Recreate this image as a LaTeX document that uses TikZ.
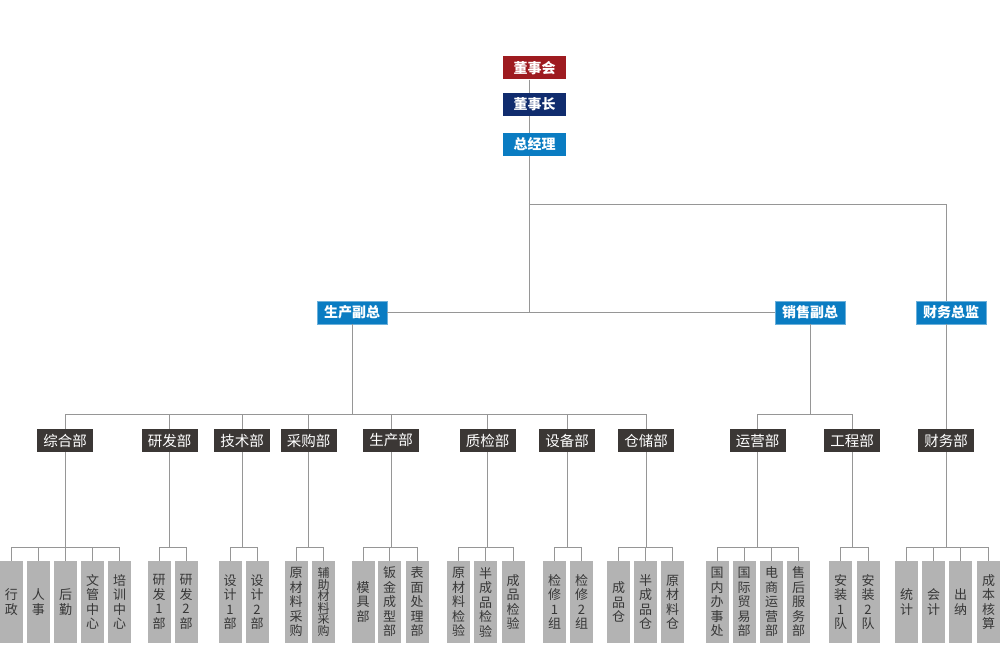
\documentclass[tikz,border=0pt]{standalone}
\usepackage{fontspec}
\newfontfamily\cjk{Noto Sans CJK SC}
\definecolor{hong}{RGB}{158, 27, 32}
\definecolor{zang}{RGB}{16, 44, 110}
\definecolor{lan}{RGB}{10, 124, 194}
\definecolor{hei}{RGB}{59, 55, 53}
\definecolor{hui}{RGB}{179, 179, 179}
\definecolor{wenzi}{RGB}{55, 55, 55}
\definecolor{xian}{RGB}{150, 150, 150}
\tikzset{
  link/.style={draw=xian, line width=1pt},
  topbox/.style={minimum width=63pt, minimum height=23pt, inner sep=0pt, text=white, font=\cjk\bfseries\fontsize{14}{14}\selectfont},
  vpbox/.style={topbox, fill=lan, draw=lan!60!white, minimum width=70pt},
  deptbox/.style={minimum width=56pt, minimum height=23pt, inner sep=0pt, fill=hei, text=white, font=\cjk\fontsize{14.5}{14.5}\selectfont},
  leafbox/.style={minimum width=23pt, minimum height=82pt, text width=23pt, align=center, inner sep=0pt, fill=hui, text=wenzi, font=\cjk\fontsize{13}{14.5}\selectfont}
}
\begin{document}
\begin{tikzpicture}[x=1pt,y=-1pt]
\useasboundingbox (0,0) rectangle (1000,660);
% top of the chart
\node[topbox, fill=hong] (dsh) at (534.5,68) {董事会};
\node[topbox, fill=zang] (dsz) at (534.5,104.5) {董事长};
\node[topbox, fill=lan] (zjl) at (534.5,144.5) {总经理};
\node[vpbox] (scfz) at (352,312.5) {生产副总};
\node[vpbox] (xsfz) at (810,312.5) {销售副总};
\node[vpbox] (cwzj) at (951,312.5) {财务总监};
\coordinate (trunk) at (529,312);
\coordinate (fork) at (529,205);
\coordinate (deptbar) at (0,414);
\coordinate (leafbar) at (0,547);
\draw[link] (dsh.south -| trunk) -- (dsz.north -| trunk);
\draw[link] (dsz.south -| trunk) -- (zjl.north -| trunk);
\draw[link] (zjl.south -| trunk) -- (trunk);
\draw[link] (scfz.east) -- (xsfz.west);
% departments
\foreach \nm/\x/\txt in {zhb/65/综合部, yfb/169.5/研发部, jsb/242/技术部, cgb/308.5/采购部, scb/391/生产部, zjb/487.5/质检部, sbb/567/设备部, ccb/646/仓储部, yyb/757.5/运营部, gcb/852/工程部, cwb/946/财务部}
  \node[deptbox] (\nm) at (\x,440.5) {\txt};
\draw[link] (fork) -| (cwzj.north -| cwb.north);
\draw[link] (cwzj.south -| cwb.north) -- (cwb.north);
\foreach \c in {zhb,yfb,jsb,cgb,scb,zjb,sbb,ccb}
  \draw[link] (scfz.south) |- (\c.north |- deptbar) -- (\c.north);
\foreach \c in {yyb,gcb}
  \draw[link] (xsfz.south) |- (\c.north |- deptbar) -- (\c.north);
% bottom row
\foreach \nm/\x/\txt in {xz/11.5/{行\\政}, rs/38.5/{人\\事}, hq/65.5/{后\\勤}, wg/92.5/{文\\管\\中\\心}, px/119.5/{培\\训\\中\\心},
    yf1/159/{研\\发\\1\\部}, yf2/186/{研\\发\\2\\部}, sj1/230/{设\\计\\1\\部}, sj2/257/{设\\计\\2\\部},
    ycl/296/{原\\材\\料\\采\\购},
    mj/363/{模\\具\\部}, bj/389.5/{钣\\金\\成\\型\\部}, bm/417/{表\\面\\处\\理\\部},
    yjy/458.5/{原\\材\\料\\检\\验}, bjy/485.5/{半\\成\\品\\检\\验}, cjy/513/{成\\品\\检\\验},
    jx1/554.5/{检\\修\\1\\组}, jx2/581.5/{检\\修\\2\\组},
    cpc/618.5/{成\\品\\仓}, bcc/645.5/{半\\成\\品\\仓}, ylc/672.5/{原\\材\\料\\仓},
    gn/717/{国\\内\\办\\事\\处}, gj/744/{国\\际\\贸\\易\\部}, ds/771.5/{电\\商\\运\\营\\部}, sh/798.5/{售\\后\\服\\务\\部},
    az1/840.5/{安\\装\\1\\队}, az2/868/{安\\装\\2\\队},
    tj/906.5/{统\\计}, kj/933.5/{会\\计}, cn/960.5/{出\\纳}, cb/988.5/{成\\本\\核\\算}}
  \node[leafbox] (\nm) at (\x,602) {\txt};
\node[leafbox, font=\cjk\fontsize{12}{11.5}\selectfont] (fzcl) at (323.5,602) {辅\\助\\材\\料\\采\\购};
\foreach \p/\c in {zhb/xz, zhb/rs, zhb/hq, zhb/wg, zhb/px, yfb/yf1, yfb/yf2, jsb/sj1, jsb/sj2, cgb/ycl, cgb/fzcl,
    scb/mj, scb/bj, scb/bm, zjb/yjy, zjb/bjy, zjb/cjy, sbb/jx1, sbb/jx2, ccb/cpc, ccb/bcc, ccb/ylc,
    yyb/gn, yyb/gj, yyb/ds, yyb/sh, gcb/az1, gcb/az2, cwb/tj, cwb/kj, cwb/cn, cwb/cb}
  \draw[link] (\p.south) |- (\c.north |- leafbar) -- (\c.north);
\end{tikzpicture}
\end{document}
